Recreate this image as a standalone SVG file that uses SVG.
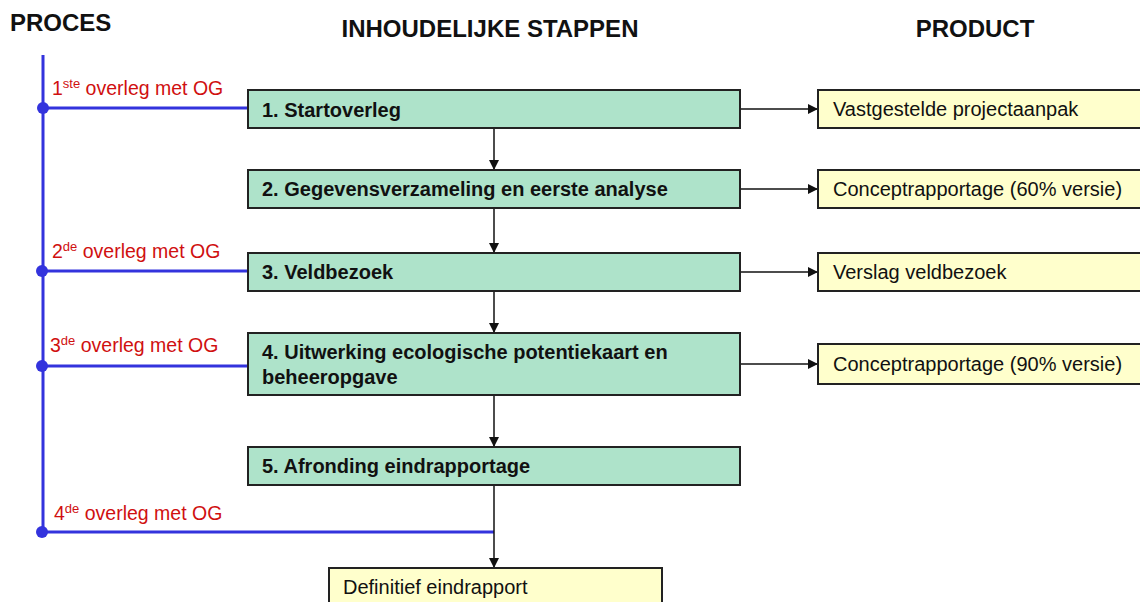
<svg xmlns="http://www.w3.org/2000/svg" width="1140" height="602" viewBox="0 0 1140 602">
<defs>
<style>
.t{font-family:"Liberation Sans",Arial,sans-serif;font-weight:bold;font-size:24px;fill:#111}
.g{fill:#aee3ca;stroke:#222;stroke-width:2}
.y{fill:#ffffcc;stroke:#222;stroke-width:2}
.gt{font-family:"Liberation Sans",Arial,sans-serif;font-weight:bold;font-size:20px;fill:#111}
.yt{font-family:"Liberation Sans",Arial,sans-serif;font-size:20px;fill:#111}
.r{font-family:"Liberation Sans",Arial,sans-serif;font-size:19.5px;fill:#d01010}
.b{stroke:#3333dd;stroke-width:3;fill:none}
.a{stroke:#111;stroke-width:1.5;fill:none;marker-end:url(#ah)}
</style>
<marker id="ah" viewBox="0 0 10 10" refX="10" refY="5" markerWidth="10" markerHeight="10" markerUnits="userSpaceOnUse" orient="auto"><path d="M0,0L10,5L0,10z" fill="#111"/></marker>
</defs>
<rect width="1140" height="602" fill="#fff"/>
<g id="headers">
<text class="t" x="10" y="31">PROCES</text>
<text class="t" x="490" y="37" text-anchor="middle">INHOUDELIJKE STAPPEN</text>
<text class="t" x="975" y="37" text-anchor="middle">PRODUCT</text>
</g>
<g id="proces">
<path class="b" d="M43,55V532M43,108H248M43,271H248M43,366H248M43,532H494"/>
<circle cx="43" cy="108" r="6" fill="#3333dd"/>
<circle cx="42" cy="271" r="6" fill="#3333dd"/>
<circle cx="42" cy="366" r="6" fill="#3333dd"/>
<circle cx="42" cy="532" r="6" fill="#3333dd"/>
<text class="r" x="52" y="95">1<tspan font-size="13" dy="-7">ste</tspan><tspan dy="7"> overleg met OG</tspan></text>
<text class="r" x="52" y="258">2<tspan font-size="13" dy="-7">de</tspan><tspan dy="7"> overleg met OG</tspan></text>
<text class="r" x="50" y="352">3<tspan font-size="13" dy="-7">de</tspan><tspan dy="7"> overleg met OG</tspan></text>
<text class="r" x="54" y="520">4<tspan font-size="13" dy="-7">de</tspan><tspan dy="7"> overleg met OG</tspan></text>
</g>
<g id="connectors">
<path class="a" d="M494,128V170"/>
<path class="a" d="M494,208V253"/>
<path class="a" d="M494,291V333"/>
<path class="a" d="M494,395V447"/>
<path class="a" d="M494,485V568"/>
<path class="a" d="M740,109H818"/>
<path class="a" d="M740,189H818"/>
<path class="a" d="M740,272H818"/>
<path class="a" d="M740,364H818"/>
</g>
<g id="step1"><rect class="g" x="248" y="90" width="492" height="38"/><text class="gt" x="262" y="117">1. Startoverleg</text></g>
<g id="step2"><rect class="g" x="248" y="170" width="492" height="38"/><text class="gt" x="262" y="196">2. Gegevensverzameling en eerste analyse</text></g>
<g id="step3"><rect class="g" x="248" y="253" width="492" height="38"/><text class="gt" x="262" y="279">3. Veldbezoek</text></g>
<g id="step4"><rect class="g" x="248" y="333" width="492" height="62"/><text class="gt" x="262" y="359">4. Uitwerking  ecologische potentiekaart en</text><text class="gt" x="262" y="384">beheeropgave</text></g>
<g id="step5"><rect class="g" x="248" y="447" width="492" height="38"/><text class="gt" x="262" y="473">5. Afronding eindrapportage</text></g>
<g id="prod1"><rect class="y" x="818" y="90" width="330" height="38"/><text class="yt" x="833" y="116">Vastgestelde projectaanpak</text></g>
<g id="prod2"><rect class="y" x="818" y="170" width="330" height="38"/><text class="yt" x="833" y="196">Conceptrapportage (60% versie)</text></g>
<g id="prod3"><rect class="y" x="818" y="253" width="330" height="38"/><text class="yt" x="833" y="279">Verslag veldbezoek</text></g>
<g id="prod4"><rect class="y" x="818" y="344" width="330" height="40"/><text class="yt" x="833" y="371">Conceptrapportage (90% versie)</text></g>
<g id="final"><rect class="y" x="329" y="568" width="333" height="40"/><text class="yt" x="343" y="594">Definitief eindrapport</text></g>
</svg>
